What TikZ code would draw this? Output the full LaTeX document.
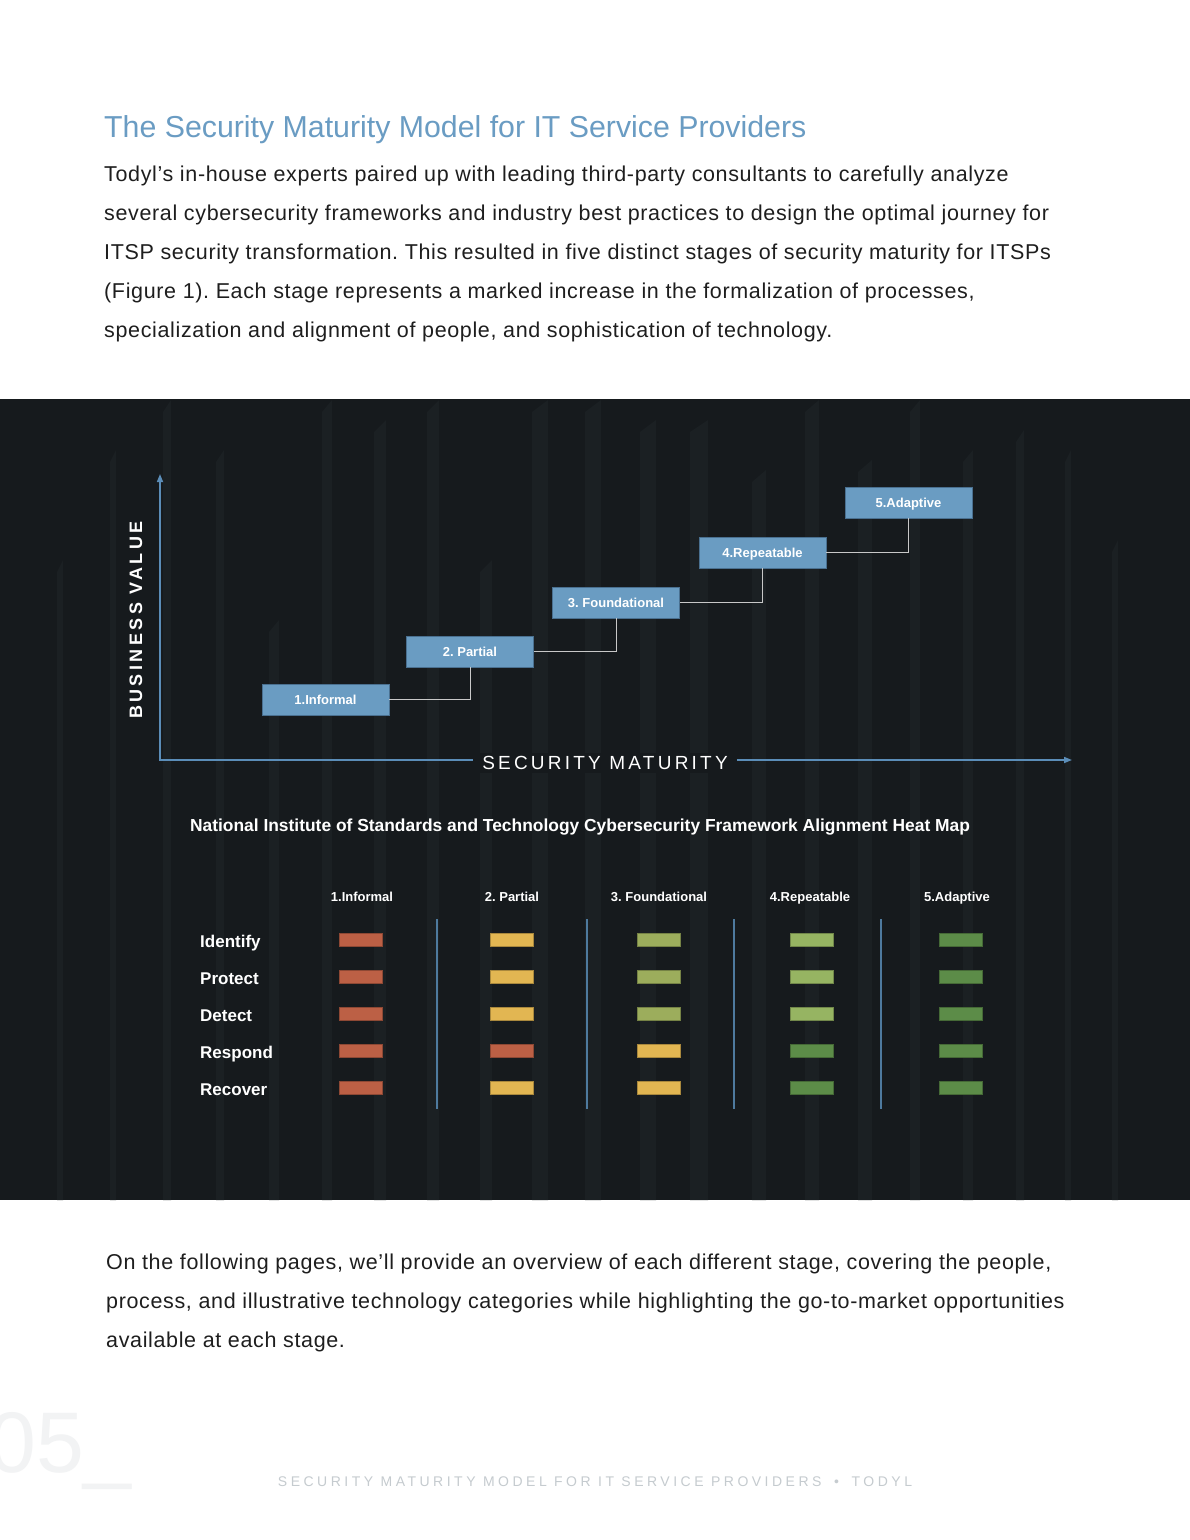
\documentclass[tikz,border=0pt]{standalone}
\usepackage{fontspec}
\setmainfont{Liberation Sans}
\usetikzlibrary{arrows.meta}
\definecolor{panel}{HTML}{161A1D}
\definecolor{stripe}{HTML}{1B2023}
\definecolor{titleblue}{HTML}{6A9CC3}
\definecolor{bodytext}{HTML}{1E1E1E}
\definecolor{axisblue}{HTML}{5B8DB8}
\definecolor{boxblue}{HTML}{6A9CC2}
\definecolor{boxedge}{HTML}{4A7090}
\definecolor{sepblue}{HTML}{4E7A9E}
\definecolor{connector}{HTML}{C8C8C8}
\definecolor{footergray}{HTML}{C5CBCF}
\definecolor{pagenum}{HTML}{F2F3F4}
\definecolor{hr}{HTML}{BC6045}
\definecolor{hy}{HTML}{E2B652}
\definecolor{ho}{HTML}{9CAD5C}
\definecolor{hl}{HTML}{96B462}
\definecolor{hg}{HTML}{5C8C48}
\frenchspacing
\begin{document}
\begin{tikzpicture}[x=1pt,y=-1pt,
  bodyline/.style={anchor=base west, inner sep=0pt, text=bodytext, font=\addfontfeatures{LetterSpace=3}\fontsize{21.5}{39}\selectfont},
  stagebox/.style={fill=boxblue, draw=boxedge, line width=0.8pt, minimum width=127pt, minimum height=31pt,
     inner sep=0pt, text=white, font=\bfseries\fontsize{13}{13}\selectfont, text height=9.4pt, text depth=0pt},
  stepline/.style={draw=connector, line width=1pt},
  axisline/.style={draw=axisblue, line width=1.6pt},
  hdr/.style={anchor=base, inner sep=0pt, text=white, font=\bfseries\fontsize{13}{13}\selectfont},
  rowlabel/.style={anchor=base west, inner sep=0pt, text=white, font=\bfseries\fontsize{17}{17}\selectfont},
  cellbox/.style={minimum width=43pt, minimum height=13pt, inner sep=0pt, line width=0.8pt},
  sepline/.style={draw=sepblue, line width=1.2pt}
]
\useasboundingbox (0,0) rectangle (1190,1540);
\fill[white] (0,0) rectangle (1190,1540);

% title and intro
\node[anchor=base west, inner sep=0pt, text=titleblue, font=\fontsize{30.3}{30}\selectfont] (title) at (104,137)
  {The Security Maturity Model for IT Service Providers};
\node[bodyline] (intro1) at (104,181) {Todyl’s in-house experts paired up with leading third-party consultants to carefully analyze};
\node[bodyline] (intro2) at (104,220) {several cybersecurity frameworks and industry best practices to design the optimal journey for};
\node[bodyline] (intro3) at (104,259) {ITSP security transformation. This resulted in five distinct stages of security maturity for ITSPs};
\node[bodyline] (intro4) at (104,298) {(Figure 1). Each stage represents a marked increase in the formalization of processes,};
\node[bodyline] (intro5) at (104,337) {specialization and alignment of people, and sophistication of technology.};

% dark panel
\fill[panel] (0,399) rectangle (1190,1200);
\foreach \x/\t/\w in {57/560/6, 110/450/6, 163/400/8, 216/450/8, 269/620/10, 322/400/10,
  374/420/12, 427/400/12, 480/560/12, 532/400/16, 585/400/16, 640/420/16,
  690/420/18, 752/470/14, 805/400/14, 858/460/14, 910/400/10, 963/450/10,
  1016/430/8, 1065/450/6, 1112/540/6}
  \fill[stripe] (\x,\t+12) -- (\x+\w,\t) -- (\x+\w,1200) -- (\x,1200) -- cycle;

% axes
\coordinate (origin) at (160,760);
\coordinate (xend) at (1072,760);
\coordinate (yend) at (160,474);
\draw[axisline, {Triangle[length=8pt,width=6pt]}-{Triangle[length=8pt,width=6pt]}] (yend) -- (origin) -- (xend);
\node[fill=panel, inner xsep=9pt, inner ysep=3pt, text=white,
  font=\addfontfeatures{LetterSpace=17}\fontsize{19}{19}\selectfont] (xlabel) at (605,763) {SECURITY MATURITY};
\node[rotate=90, inner sep=0pt, text=white,
  font=\bfseries\addfontfeatures{LetterSpace=19}\fontsize{18}{18}\selectfont] (ylabel) at (136,620) {BUSINESS VALUE};

% stage boxes
\node[stagebox] (s1) at (325.5,699.5) {1.Informal};
\node[stagebox] (s2) at (470,651.5) {2. Partial};
\node[stagebox] (s3) at (616,602.5) {3. Foundational};
\node[stagebox] (s4) at (762.5,552.5) {4.Repeatable};
\node[stagebox] (s5) at (908.5,502.5) {5.Adaptive};
\draw[stepline] (s1.east) -| (s2.south);
\draw[stepline] (s2.east) -| (s3.south);
\draw[stepline] (s3.east) -| (s4.south);
\draw[stepline] (s4.east) -| (s5.south);

% heat map
\node[anchor=base, inner sep=0pt, text=white, font=\bfseries\fontsize{17.4}{17.4}\selectfont] (hmtitle) at (580,831)
  {National Institute of Standards and Technology Cybersecurity Framework Alignment Heat Map};

\node[hdr] (h1) at (362,901.5) {1.Informal};
\node[hdr] (h2) at (512,901.5) {2. Partial};
\node[hdr] (h3) at (659,901.5) {3. Foundational};
\node[hdr] (h4) at (810,901.5) {4.Repeatable};
\node[hdr] (h5) at (957,901.5) {5.Adaptive};

\node[rowlabel] (r1) at (200,947) {Identify};
\node[rowlabel] (r2) at (200,984) {Protect};
\node[rowlabel] (r3) at (200,1021) {Detect};
\node[rowlabel] (r4) at (200,1058) {Respond};
\node[rowlabel] (r5) at (200,1095) {Recover};

\foreach \xs in {437,587,734,881}
  \draw[sepline] (\xs,919) -- (\xs,1109);

\foreach \x/\cl [count=\c] in {361/{hr,hr,hr,hr,hr}, 512/{hy,hy,hy,hr,hy}, 659/{ho,ho,ho,hy,hy},
   812/{hl,hl,hl,hg,hg}, 961/{hg,hg,hg,hg,hg}}
  \foreach \cc [count=\r] in \cl
    \node[cellbox, fill=\cc, draw=\cc!75!black] (cell\c\r) at (\x,903+37*\r) {};

% closing text
\node[bodyline] (outro1) at (106,1269) {On the following pages, we’ll provide an overview of each different stage, covering the people,};
\node[bodyline] (outro2) at (106,1308) {process, and illustrative technology categories while highlighting the go-to-market opportunities};
\node[bodyline] (outro3) at (106,1347) {available at each stage.};

% footer
\node[anchor=base west, inner sep=0pt, text=pagenum, font=\fontsize{86}{86}\selectfont] (pnum) at (-12,1472) {05\_};
\node[anchor=base, inner sep=0pt, text=footergray,
  font=\addfontfeatures{LetterSpace=25}\fontsize{14}{14}\selectfont] (footer) at (595,1486)
  {SECURITY MATURITY MODEL FOR IT SERVICE PROVIDERS\hspace{0.9em}•\hspace{0.9em}TODYL};
\end{tikzpicture}
\end{document}
